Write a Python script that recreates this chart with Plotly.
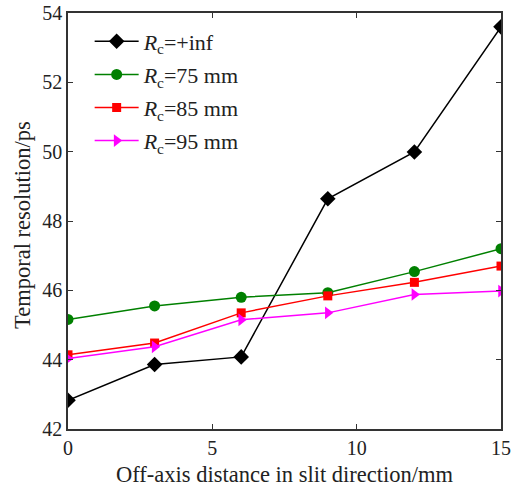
import plotly.graph_objects as go

x_vals = [0, 3, 6, 9, 12, 15]
inf_vals = [42.83, 43.86, 44.08, 48.64, 49.99, 53.6]
r75_vals = [45.16, 45.55, 45.8, 45.93, 46.54, 47.2]
r85_vals = [44.14, 44.48, 45.35, 45.84, 46.23, 46.7]
r95_vals = [44.03, 44.37, 45.15, 45.35, 45.88, 45.98]
names = ["<i>R</i><sub>c</sub>=+inf", "<i>R</i><sub>c</sub>=75 mm",
         "<i>R</i><sub>c</sub>=85 mm", "<i>R</i><sub>c</sub>=95 mm"]
x_title = "Off-axis distance in slit direction/mm"
y_title = "Temporal resolution/ps"

series = [
    (inf_vals, names[0], "black", "diamond", 12),
    (r75_vals, names[1], "green", "circle", 11),
    (r85_vals, names[2], "red", "square", 9),
    (r95_vals, names[3], "magenta", "triangle-right", 11),
]

fig = go.Figure()
for i, (ys, nm, col, sym, sz) in enumerate(series):
    fig.add_trace(go.Scatter(x=x_vals, y=ys, name=nm, mode="lines+markers",
                             legendgroup=f"g{i}",
                             line=dict(color=col, width=1.5),
                             marker=dict(symbol=sym, size=sz, color=col)))

font = "Liberation Serif, Times New Roman, serif"
axis_common = dict(showline=True, linecolor="#333333", linewidth=1.5, mirror="ticks",
                   ticks="inside", ticklen=5, tickcolor="#333333", tickwidth=1,
                   showgrid=False, zeroline=False, automargin=False,
                   tickfont=dict(family=font, size=20, color="#222222"))
fig.update_layout(
    width=516, height=489,
    margin=dict(l=68, r=15, t=13, b=60, autoexpand=False),
    plot_bgcolor="white", paper_bgcolor="white",
    font=dict(family=font, size=20, color="#222222"),
    xaxis=dict(range=[0, 15], tickvals=[0, 5, 10, 15], **axis_common),
    yaxis=dict(range=[42, 54], tickvals=[42, 44, 46, 48, 50, 52, 54], **axis_common),
    legend=dict(x=0.05, y=0.982, xanchor="left", yanchor="top", itemwidth=44,
                bgcolor="rgba(0,0,0,0)", font=dict(family=font, size=22),
                tracegroupgap=1.5),
    annotations=[
        dict(text=x_title, xref="paper", yref="paper", x=0.5, y=0,
             xanchor="center", yanchor="middle", yshift=-45, showarrow=False,
             font=dict(family=font, size=22.5, color="#222222")),
        dict(text=y_title, xref="paper", yref="paper", x=0, y=0.5,
             xanchor="center", yanchor="middle", xshift=-46, yshift=-4,
             textangle=-90, showarrow=False,
             font=dict(family=font, size=22.5, color="#222222")),
    ],
)
fig.write_html("out.html", config={"displayModeBar": False},
               post_script="document.body.style.margin='0';document.body.style.overflow='hidden';")
